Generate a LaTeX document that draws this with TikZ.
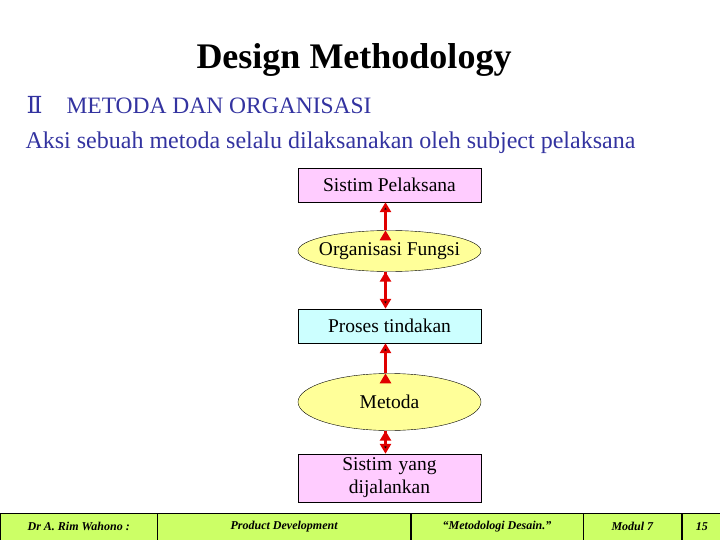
\documentclass[tikz,border=0pt]{standalone}
\usepackage{fontspec}
\setmainfont{Liberation Serif}
\newfontfamily\numfont{DejaVu Serif}
\usetikzlibrary{positioning}
\usetikzlibrary{shapes.geometric}
\usetikzlibrary{arrows.meta}
\definecolor{slideblue}{HTML}{3333A0}
\definecolor{boxpink}{HTML}{FFCCFF}
\definecolor{boxcyan}{HTML}{CCFFFF}
\definecolor{ovalyellow}{HTML}{FFFF99}
\definecolor{arrowred}{HTML}{E00000}
\definecolor{footgreen}{HTML}{CCFF66}
\tikzset{
  stepbox/.style={draw, rectangle, minimum width=183pt, inner sep=2pt, font=\fontsize{19.5}{22}\selectfont, align=center},
  stepoval/.style={draw, ellipse, minimum width=183pt, inner xsep=-20pt, inner ysep=0pt, font=\fontsize{19.5}{22}\selectfont},
  link/.style={draw=arrowred, line width=3pt, -{Triangle[length=10pt,width=11pt]}},
  footcell/.style={draw, fill=footgreen, rectangle, minimum height=27pt, inner sep=0pt, font=\bfseries\itshape\fontsize{12}{13}\selectfont}
}
\begin{document}
\begin{tikzpicture}[x=1pt,y=-1pt]
  \useasboundingbox (0,0) rectangle (720,540);
  \node(title) at (354,60) {\fontsize{36}{40}\selectfont\bfseries Design Methodology};
  \node[anchor=base west, text=slideblue] (sub) at (23,114) {\fontsize{23.5}{26}\selectfont{\numfont Ⅱ}\hspace{24pt}METODA DAN ORGANISASI};
  \node[anchor=base west, text=slideblue] (lead) at (22,149) {\fontsize{24}{27}\selectfont Aksi sebuah metoda selalu dilaksanakan oleh subject pelaksana};

  \node[stepbox, fill=boxpink, minimum height=34pt] (pelaksana) at (389.5,185) {Sistim Pelaksana};
  \node[stepoval, fill=ovalyellow, minimum height=41pt] (organisasi) at (389.5,251) {Organisasi Fungsi};
  \node[stepbox, fill=boxcyan, minimum height=34pt] (proses) at (389.5,326) {Proses tindakan};
  \node[stepoval, fill=ovalyellow, minimum height=57pt] (metoda) at (389.5,402) {Metoda};
  \node[stepbox, fill=boxpink, minimum height=48pt, text width=120pt, inner sep=0pt, font=\fontsize{19.5}{23}\selectfont] (dijalankan) at (389.5,478) {Sistim yang\\ dijalankan};

  \path[link] ([xshift=-4pt]organisasi.north) edge ([xshift=-4pt]pelaksana.south);
  \path[link] ([xshift=-4pt]organisasi.south) edge ([xshift=-4pt]proses.north);
  \path[link] ([xshift=-4pt]metoda.north) edge ([xshift=-4pt]proses.south);
  \path[link] ([xshift=-4pt]metoda.south) edge ([xshift=-4pt]dijalankan.north);

  % footer
  \node[footcell, anchor=north west, minimum width=157pt] (author) at (0,513) {Dr A. Rim Wahono :};
  \node[footcell, anchor=north west, minimum width=253pt] (course) at (author.north east) {Product Development};
  \node[footcell, anchor=north west, minimum width=172pt] (topic) at (course.north east) {``Metodologi Desain.''};
  \node[footcell, anchor=north west, minimum width=98pt] (modul) at (topic.north east) {Modul 7};
  \node[footcell, anchor=north west, minimum width=40pt] (page) at (modul.north east) {15};
\end{tikzpicture}
\end{document}
